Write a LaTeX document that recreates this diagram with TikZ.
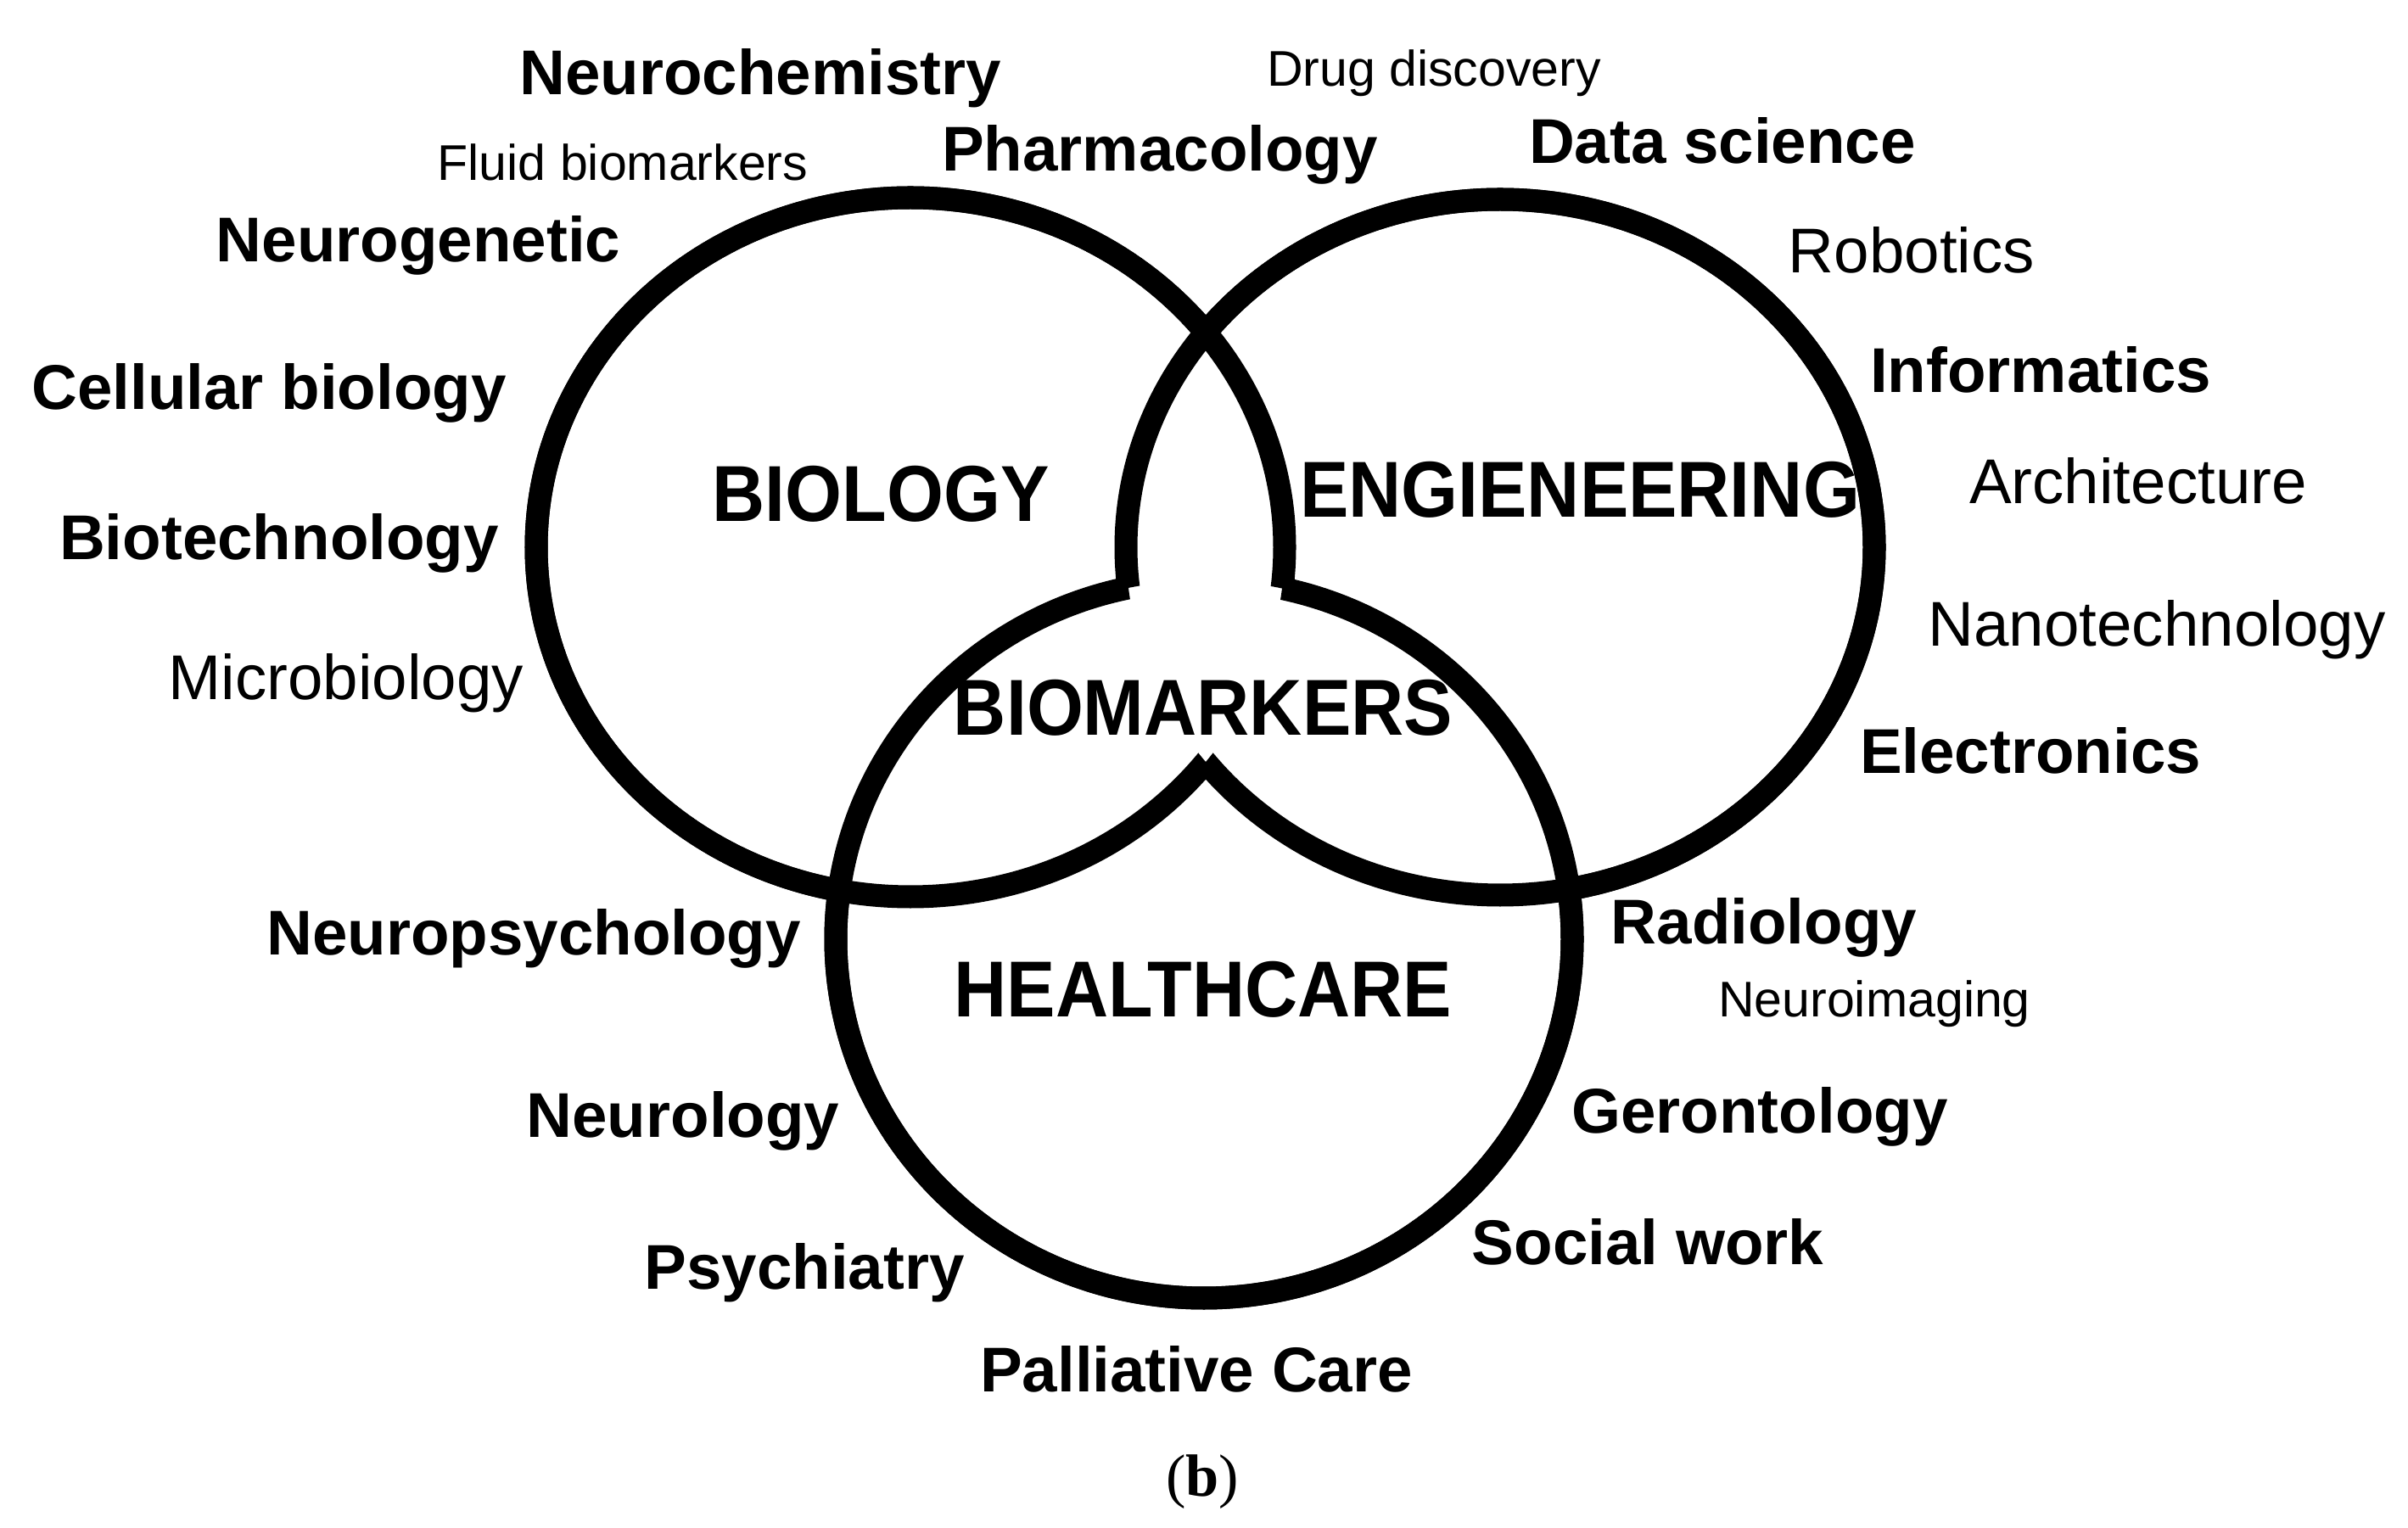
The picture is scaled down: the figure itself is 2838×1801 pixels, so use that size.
\documentclass[tikz,border=0pt]{standalone}
\usepackage{fontspec}
\setmainfont{Liberation Sans}
\newfontfamily\serifface{Liberation Serif}
\newfontfamily\ringface[FakeStretch=0.92]{Liberation Sans}
\newcommand\fieldsize{\fontsize{21.2}{25}\selectfont}
\newcommand\smallsize{\fontsize{16.8}{20}\selectfont}
\newcommand\ringsize{\fontsize{26.6}{30}\selectfont}
% the three rings, and their outsides (drawn the other way round)
\newcommand\wholearea{(0,0) -- (2838,0) -- (2838,1801) -- (0,1801) -- cycle}
\newcommand\bioring{(1073,645) ellipse (441 and 412)}
\newcommand\engring{(1768,645) ellipse (441 and 410)}
\newcommand\healthring{(1419,1107) ellipse (434 and 423)}
\newcommand\biohole{(1514,645) arc[start angle=0, end angle=-360, x radius=441, y radius=412]}
\newcommand\enghole{(2209,645) arc[start angle=0, end angle=-360, x radius=441, y radius=410]}
\newcommand\healthhole{(1853,1107) arc[start angle=0, end angle=-360, x radius=434, y radius=423]}

\begin{document}
\begin{tikzpicture}[x=0.01cm, y=-0.01cm,
    ring/.style={line width=0.27cm, line join=miter},
    field/.style={anchor=base, inner sep=0pt, font=\bfseries\fieldsize},
    topic/.style={anchor=base, inner sep=0pt, font=\fieldsize},
    minor/.style={anchor=base, inner sep=0pt, font=\smallsize},
    area/.style={anchor=base, inner sep=0pt, font=\ringface\bfseries\ringsize}]
  \useasboundingbox (0,0) rectangle (2838,1801);

  % each ring is left out where the two others overlap
  \begin{scope} \clip \wholearea \enghole;    \draw[ring] \bioring;    \end{scope}
  \begin{scope} \clip \wholearea \healthhole; \draw[ring] \bioring;    \end{scope}
  \begin{scope} \clip \wholearea \biohole;    \draw[ring] \engring;    \end{scope}
  \begin{scope} \clip \wholearea \healthhole; \draw[ring] \engring;    \end{scope}
  \begin{scope} \clip \wholearea \biohole;    \draw[ring] \healthring; \end{scope}
  \begin{scope} \clip \wholearea \enghole;    \draw[ring] \healthring; \end{scope}

  % ring titles
  \node[area] (biology) at (1038,615) {BIOLOGY};
  \node[area] (engineering) at (1862,610) {ENGIENEERING};
  \node[area] (biomarkers) at (1418,867) {BIOMARKERS};
  \node[area] (healthcare) at (1418,1199) {HEALTHCARE};

  % biology side
  \node[field] (neurochem) at (896,112) {Neurochemistry};
  \node[minor] (fluid) at (734,213) {Fluid biomarkers};
  \node[field] (neurogen) at (493,309) {Neurogenetic};
  \node[field] (cellular) at (317,483) {Cellular biology};
  \node[field] (biotech) at (329,660) {Biotechnology};
  \node[topic] (microbio) at (408,825) {Microbiology};

  % engineering side
  \node[minor] (drug) at (1690,102) {Drug discovery};
  \node[field] (pharma) at (1367,202) {Pharmacology};
  \node[field] (datasci) at (2030,193) {Data science};
  \node[topic] (robotics) at (2253,322) {Robotics};
  \node[field] (informatics) at (2405,463) {Informatics};
  \node[topic] (architecture) at (2520,594) {Architecture};
  \node[topic] (nanotech) at (2542,762) {Nanotechnology};
  \node[field] (electronics) at (2393,912) {Electronics};

  % healthcare side
  \node[field] (neuropsy) at (629,1126) {Neuropsychology};
  \node[field] (radiology) at (2079,1113) {Radiology};
  \node[minor] (neuroimg) at (2209,1199) {Neuroimaging};
  \node[field] (neurology) at (805,1341) {Neurology};
  \node[field] (geronto) at (2074,1336) {Gerontology};
  \node[field] (social) at (1942,1491) {Social work};
  \node[field] (psychiatry) at (948,1520) {Psychiatry};
  \node[field] (palliative) at (1410,1640) {Palliative Care};

  \node[anchor=base, inner sep=0pt, font=\serifface\fontsize{20}{24}\selectfont] (panel) at (1417,1763) {(\textbf{b})};
\end{tikzpicture}
\end{document}
